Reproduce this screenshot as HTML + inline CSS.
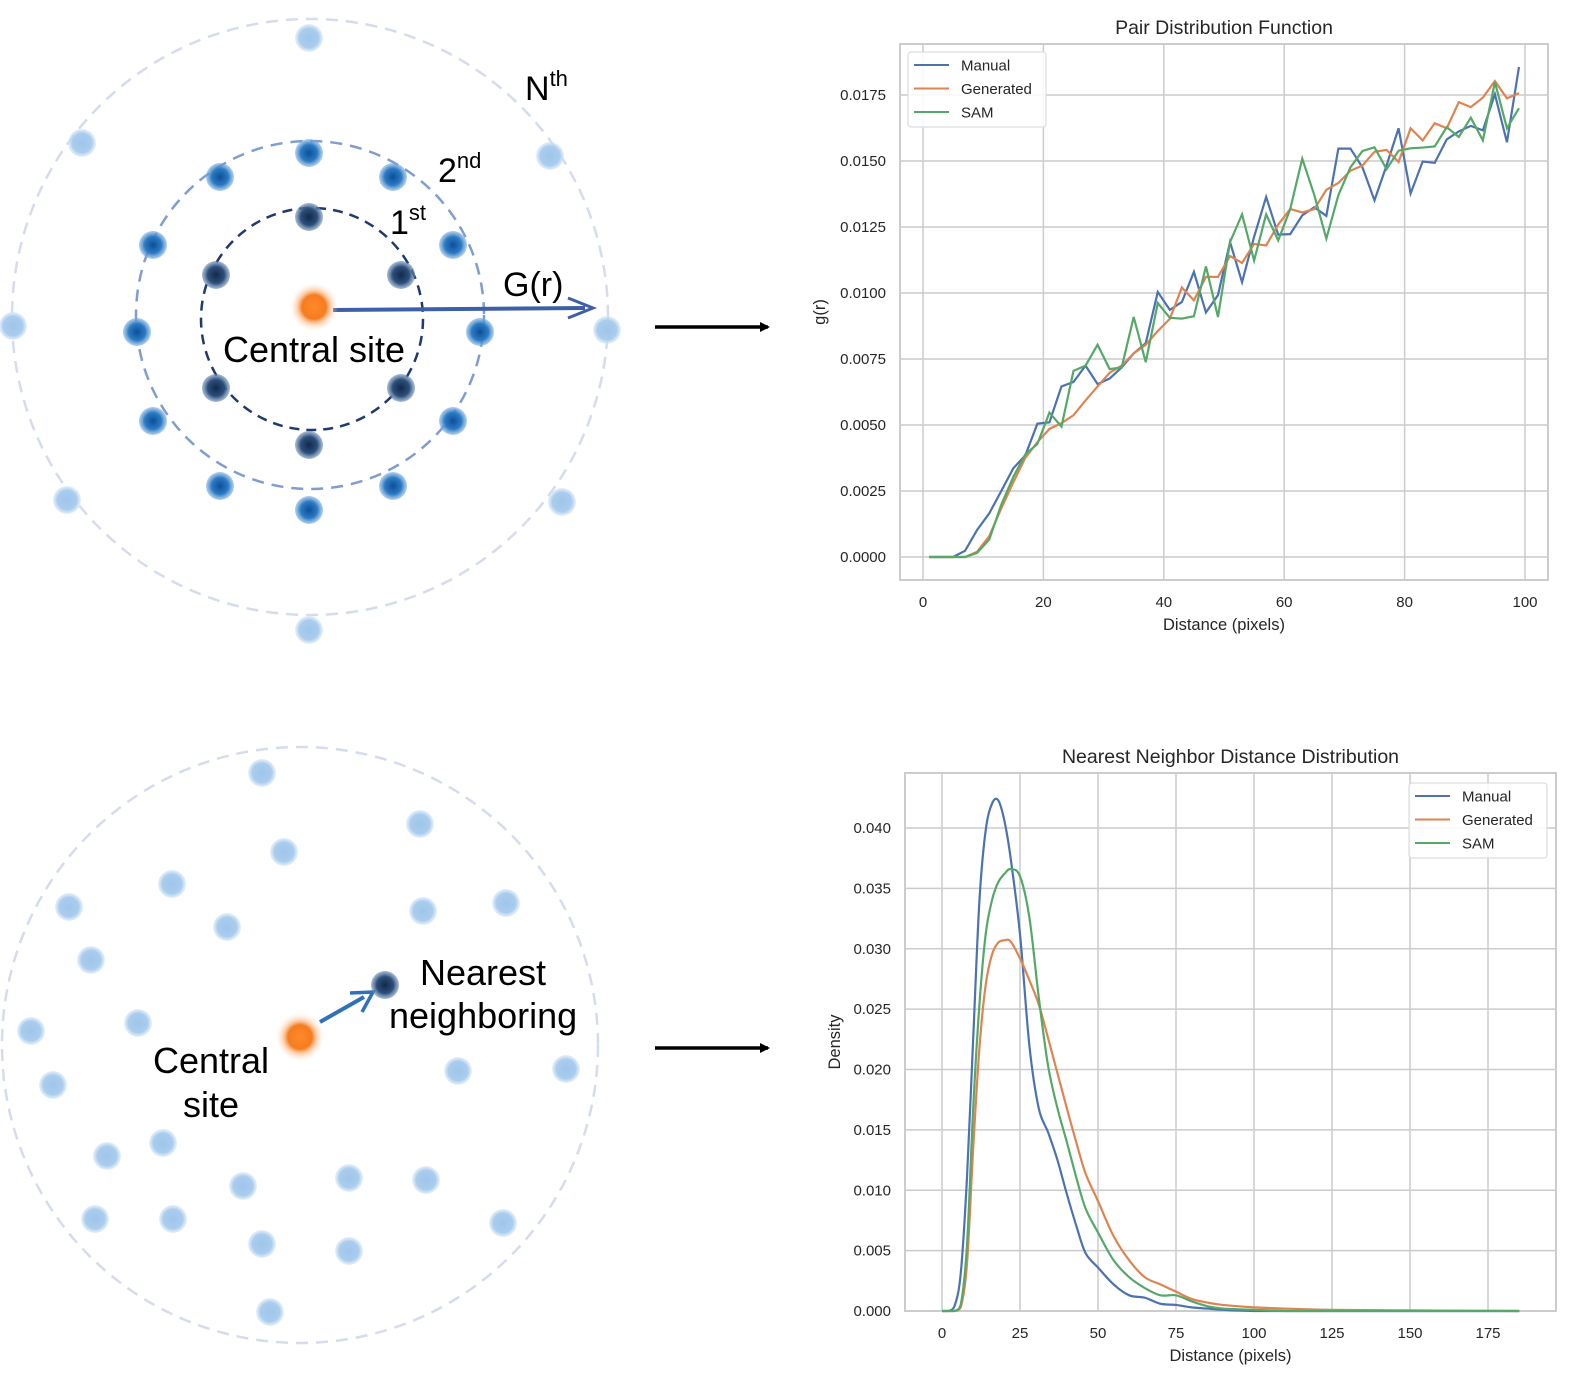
<!DOCTYPE html>
<html><head><meta charset="utf-8"><style>
body{margin:0;background:#fff;}
svg{display:block;font-family:"Liberation Sans",Arial,sans-serif;}
</style></head><body>
<svg id="s" width="1585" height="1398" viewBox="0 0 1585 1398">
<defs>
<radialGradient id="gOr"><stop offset="0" stop-color="#ff8a2a"/><stop offset="0.5" stop-color="#f57c1f"/><stop offset="0.7" stop-color="#fbb27a" stop-opacity="0.6"/><stop offset="1" stop-color="#fde0c8" stop-opacity="0"/></radialGradient>
<radialGradient id="gDk"><stop offset="0" stop-color="#13294a"/><stop offset="0.6" stop-color="#2c4f7a"/><stop offset="1" stop-color="#6f8fb8" stop-opacity="0.6"/></radialGradient>
<radialGradient id="gMd"><stop offset="0" stop-color="#0d4f96"/><stop offset="0.6" stop-color="#2b7bc4"/><stop offset="1" stop-color="#7fb0e0" stop-opacity="0.6"/></radialGradient>
<radialGradient id="gLt"><stop offset="0" stop-color="#9fc5ea"/><stop offset="0.7" stop-color="#aacdee"/><stop offset="1" stop-color="#d5e6f6" stop-opacity="0.6"/></radialGradient>
<marker id="ah" markerWidth="10" markerHeight="10" refX="8" refY="5" orient="auto" markerUnits="userSpaceOnUse"><path d="M0,0 L10,5 L0,10 Z" fill="#000"/></marker>
</defs>
<g id="diagTop">
<circle cx="310" cy="317" r="298" fill="none" stroke="#d5dcee" stroke-width="2.5" stroke-dasharray="12,8"/>
<circle cx="310" cy="315" r="174" fill="none" stroke="#7f9dd0" stroke-width="2.5" stroke-dasharray="12,8"/>
<circle cx="312" cy="319" r="111" fill="none" stroke="#1f3a6e" stroke-width="2.5" stroke-dasharray="10,7"/>
<line x1="333" y1="310" x2="585" y2="308" stroke="#3d5fa8" stroke-width="4"/>
<path d="M568,298 L593,308 L568,318" fill="none" stroke="#3d5fa8" stroke-width="3"/>
<text x="503" y="296" font-size="34">G(r)</text>
<text x="223" y="362" font-size="36">Central site</text>
<text x="525" y="100" font-size="34">N<tspan font-size="22" dy="-14">th</tspan></text>
<text x="438" y="182" font-size="34">2<tspan font-size="22" dy="-14">nd</tspan></text>
<text x="390" y="234" font-size="34">1<tspan font-size="22" dy="-14">st</tspan></text>
</g>
<g id="diagBot">
<circle cx="300" cy="1045" r="298" fill="none" stroke="#d5dcee" stroke-width="2.5" stroke-dasharray="12,8"/>
<line x1="320" y1="1022" x2="364" y2="997" stroke="#2f72b8" stroke-width="4"/>
<path d="M350,993 L373,992 L362,1012" fill="none" stroke="#2f72b8" stroke-width="3.5"/>
<text x="420" y="985" font-size="36">Nearest</text>
<text x="389" y="1028" font-size="36">neighboring</text>
<text x="153" y="1073" font-size="36">Central</text>
<text x="183" y="1117" font-size="36">site</text>
</g>
<line x1="655" y1="327" x2="768" y2="327" stroke="#000" stroke-width="3.5" marker-end="url(#ah)"/>
<line x1="655" y1="1048" x2="768" y2="1048" stroke="#000" stroke-width="3.5" marker-end="url(#ah)"/>
<g id="chartTop"></g>
<g id="chartBot"></g>
</svg>
<script>
// ---- Pair distribution data ----
const pdfDistance = [];
for (let i = 1; i <= 99; i += 2) pdfDistance.push(i);
const pdfManual = [0,0,0,0.00024,0.00103,0.00165,0.0025,0.00336,0.00385,0.00505,0.0051,0.00646,0.00663,0.00725,0.00655,0.00676,0.00718,0.00771,0.0081,0.01004,0.00936,0.00966,0.0108,0.00926,0.00992,0.01193,0.01041,0.01213,0.01364,0.01221,0.01223,0.01294,0.01325,0.01292,0.01547,0.01547,0.01476,0.01351,0.01483,0.01624,0.01377,0.01498,0.01493,0.01582,0.01612,0.01633,0.01616,0.01753,0.01571,0.01856];
const pdfGenerated = [0,0,0,0,0.0002,0.00079,0.00184,0.00283,0.00376,0.00435,0.00485,0.00507,0.00537,0.00593,0.00646,0.00698,0.00725,0.00771,0.00804,0.00856,0.00902,0.01021,0.00972,0.01061,0.01061,0.0114,0.01114,0.01186,0.0118,0.01259,0.01318,0.01305,0.01318,0.01391,0.01417,0.01463,0.01483,0.01535,0.01542,0.01496,0.01624,0.01578,0.01643,0.01624,0.01723,0.01704,0.0174,0.01803,0.01737,0.01757];
const pdfSAM = [0,0,0,0,0.00016,0.00066,0.00198,0.00303,0.00389,0.00428,0.00547,0.00494,0.00705,0.00725,0.00804,0.00712,0.00718,0.00909,0.00738,0.00962,0.00906,0.00903,0.00912,0.01101,0.00909,0.01193,0.01298,0.01123,0.01298,0.01199,0.01318,0.01509,0.01371,0.01206,0.01371,0.01476,0.01538,0.01552,0.01469,0.01539,0.01548,0.01551,0.01555,0.01628,0.01591,0.01664,0.01578,0.01799,0.01624,0.017];
const pdfXTicks = [0,20,40,60,80,100];
const pdfYTicks = [0,0.0025,0.005,0.0075,0.01,0.0125,0.015,0.0175];
// ---- Nearest neighbor data ----
const nnDistance = [0,2,4,6,8,10,12,14,16,18,20,22,25,28,31,34,37,40,43,46,50,55,60,65,70,75,80,85,90,100,110,125,150,185];
const nnManual = [0,0,0.0004,0.0031,0.011,0.0226,0.034,0.0398,0.042,0.0423,0.0406,0.0375,0.0312,0.022,0.0168,0.0148,0.0125,0.0097,0.0071,0.0048,0.0036,0.0022,0.0013,0.0011,0.0006,0.0005,0.0003,0.0002,0.0001,0,0,0,0,0];
const nnGenerated = [0,0,0,0.0003,0.0039,0.0135,0.0218,0.027,0.0295,0.0305,0.0307,0.0306,0.0292,0.0274,0.0254,0.0226,0.0197,0.0168,0.014,0.0114,0.0091,0.0062,0.0042,0.0028,0.0022,0.0016,0.001,0.0007,0.0005,0.0003,0.0002,0.0001,0.00005,0];
const nnSAM = [0,0,0,0.0005,0.0054,0.0168,0.0254,0.0312,0.034,0.0355,0.0362,0.0366,0.036,0.0326,0.026,0.0203,0.0168,0.014,0.0111,0.0085,0.0065,0.0042,0.0028,0.0019,0.0013,0.0013,0.0008,0.0004,0.0002,0.0001,0,0,0,0];
const nnXTicks = [0,25,50,75,100,125,150,175];
const nnYTicks = [0,0.005,0.01,0.015,0.02,0.025,0.03,0.035,0.04];
// ---- Diagram dot data ----
const dotsFirst = [[309,217],[216,275],[401,275],[216,388],[401,388],[309,445]];
const dotsSecond = [[309,153],[220,177],[393,177],[153,245],[453,245],[137,332],[480,332],[153,421],[453,421],[220,486],[393,486],[309,510]];
const dotsNth = [[309,38],[82,143],[550,156],[13,326],[607,330],[67,500],[562,502],[309,630]];
const dotsScatter = [[262,773],[420,824],[284,852],[172,884],[69,907],[506,903],[423,911],[227,927],[91,960],[31,1031],[138,1023],[53,1085],[458,1071],[566,1069],[163,1143],[107,1156],[349,1178],[426,1180],[243,1186],[95,1219],[173,1219],[503,1223],[262,1244],[349,1251],[270,1312]];

const NS = 'http://www.w3.org/2000/svg';
function mk(tag, parent, attrs) {
  const e = document.createElementNS(NS, tag);
  for (const k in attrs) e.setAttribute(k, attrs[k]);
  parent.appendChild(e);
  return e;
}
const colors = ['#4c72b0','#dd8452','#55a868'];
const names = ['Manual','Generated','SAM'];

const dt = document.getElementById('diagTop'), db = document.getElementById('diagBot');
dotsNth.forEach(p => { const c = mk('circle', dt, {cx:p[0], cy:p[1], r:14, fill:'url(#gLt)'});
  
   });
dotsSecond.forEach(p => { const c = mk('circle', dt, {cx:p[0], cy:p[1], r:14, fill:'url(#gMd)'});
  
   });
dotsFirst.forEach(p => { const c = mk('circle', dt, {cx:p[0], cy:p[1], r:14, fill:'url(#gDk)'});
  
   });
let co = mk('circle', dt, {cx:314, cy:307, r:24, fill:'url(#gOr)'});


dotsScatter.forEach(p => { const c = mk('circle', db, {cx:p[0], cy:p[1], r:14, fill:'url(#gLt)'});
  
   });
let cn = mk('circle', db, {cx:385, cy:985, r:14, fill:'url(#gDk)'});


let cb = mk('circle', db, {cx:300, cy:1037, r:24, fill:'url(#gOr)'});



function drawChart(g, o) {
  const X = v => o.x0 + (v - o.xmin) / (o.xmax - o.xmin) * (o.x1 - o.x0);
  const Y = v => o.y0 + (v - o.ymin) / (o.ymax - o.ymin) * (o.y1 - o.y0);
  o.xt.forEach(t => {
    const l = mk('line', g, {x1:X(t), x2:X(t), y1:o.top, y2:o.bot, stroke:'#cccccc', 'stroke-width':1.5});
    
    
    const tx = mk('text', g, {x:X(t), y:o.bot + 27, 'font-size':15, 'text-anchor':'middle', fill:'#262626'});
    tx.textContent = String(t);
    
    
  });
  o.yt.forEach(t => {
    const l = mk('line', g, {x1:o.left, x2:o.right, y1:Y(t), y2:Y(t), stroke:'#cccccc', 'stroke-width':1.5});
    
    
    const tx = mk('text', g, {x:o.left - 14, y:Y(t) + 5, 'font-size':15, 'text-anchor':'end', fill:'#262626'});
    tx.textContent = t.toFixed(o.dec);
    
    
  });
  const fr = mk('rect', g, {x:o.left, y:o.top, width:o.right-o.left, height:o.bot-o.top, fill:'none', stroke:'#cccccc', 'stroke-width':2});
  
  
  o.series.forEach((s, i) => {
    const pts = o.xs.map((x, j) => [X(x), Y(s[j])]);
    let d = 'M' + pts[0][0] + ',' + pts[0][1];
    if (o.smooth) {
      for (let j = 0; j < pts.length - 1; j++) {
        const p0 = pts[Math.max(0,j-1)], p1 = pts[j], p2 = pts[j+1], p3 = pts[Math.min(pts.length-1,j+2)];
        let c1y = p1[1] + (p2[1]-p0[1])/6, c2y = p2[1] - (p3[1]-p1[1])/6;
        c1y = Math.min(c1y, o.y0); c2y = Math.min(c2y, o.y0);
        d += ' C' + (p1[0]+(p2[0]-p0[0])/6) + ',' + c1y + ' ' + (p2[0]-(p3[0]-p1[0])/6) + ',' + c2y + ' ' + p2[0] + ',' + p2[1];
      }
    } else {
      for (let j = 1; j < pts.length; j++) d += ' L' + pts[j][0] + ',' + pts[j][1];
    }
    const p = mk('path', g, {d:d, fill:'none', stroke:colors[i], 'stroke-width':2.2});
    
    
  });
  const lg = mk('g', g, {});
  
  
  mk('rect', lg, {x:o.lx, y:o.ly, width:138, height:75, rx:3, fill:'#fff', 'fill-opacity':0.85, stroke:'#dddddd', 'stroke-width':1.2});
  names.forEach((n, i) => {
    const yy = o.ly + 13 + i * 23.5;
    const ln = mk('line', lg, {x1:o.lx+6, x2:o.lx+41, y1:yy, y2:yy, stroke:colors[i], 'stroke-width':2});
    
    
    const t = mk('text', lg, {x:o.lx+53, y:yy+5.5, 'font-size':15, fill:'#262626'});
    t.textContent = n;
    
    
  });
  const ti = mk('text', g, {x:(o.left+o.right)/2, y:o.top - 10, 'font-size':19.5, 'text-anchor':'middle', fill:'#262626'});
  ti.textContent = o.title;
  
  
  const xl = mk('text', g, {x:(o.left+o.right)/2, y:o.bot + 50, 'font-size':16.5, 'text-anchor':'middle', fill:'#262626'});
  xl.textContent = o.xlabel;
  
  
  const yl = mk('text', g, {x:0, y:0, 'font-size':16.5, 'text-anchor':'middle', fill:'#262626', transform:'translate(' + o.ylx + ',' + ((o.top+o.bot)/2) + ') rotate(-90)'});
  yl.textContent = o.ylabel;
  
  
}
drawChart(document.getElementById('chartTop'), {
  left:900, right:1548, top:44, bot:580,
  xmin:0, xmax:100, x0:923, x1:1525, ymin:0, ymax:0.0175, y0:557, y1:95,
  xt:pdfXTicks, yt:pdfYTicks, dec:4, xs:pdfDistance, series:[pdfManual,pdfGenerated,pdfSAM],
  smooth:false, lx:908, ly:52, title:'Pair Distribution Function', xlabel:'Distance (pixels)', ylabel:'g(r)', ylx:825
});
drawChart(document.getElementById('chartBot'), {
  left:905, right:1556, top:773, bot:1311,
  xmin:0, xmax:175, x0:942, x1:1488, ymin:0, ymax:0.04, y0:1311, y1:828,
  xt:nnXTicks, yt:nnYTicks, dec:3, xs:nnDistance, series:[nnManual,nnGenerated,nnSAM],
  smooth:true, lx:1409, ly:783, title:'Nearest Neighbor Distance Distribution', xlabel:'Distance (pixels)', ylabel:'Density', ylx:840
});
</script>
</body></html>
